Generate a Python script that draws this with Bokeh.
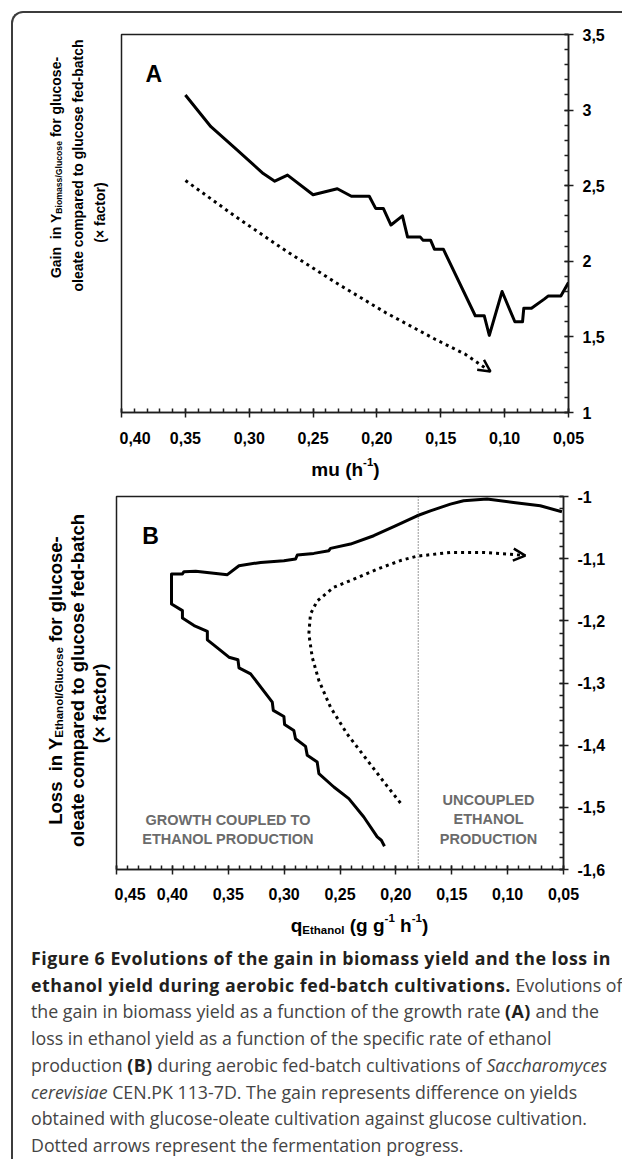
import math
import subprocess
import numpy as np
from bokeh.plotting import figure
from bokeh.models import (Range1d, FixedTicker, CustomJSTickFormatter, Label, Arrow,
                          OpenHead, Span, Div)
from bokeh.layouts import column, row
from bokeh.embed import file_html
from bokeh.resources import INLINE

# ---------------- data ----------------
# Panel A: gain in biomass yield vs growth rate mu (h-1)
mu_a = [0.350, 0.330, 0.310, 0.289, 0.280, 0.270, 0.250, 0.231, 0.220, 0.206, 0.201,
        0.195, 0.189, 0.180, 0.176, 0.166, 0.164, 0.158, 0.155, 0.148, 0.123, 0.116,
        0.112, 0.102, 0.092, 0.086, 0.085, 0.079, 0.069, 0.066, 0.056, 0.050]
gain_a = [3.10, 2.89, 2.74, 2.58, 2.53, 2.57, 2.44, 2.48, 2.43, 2.43, 2.35,
          2.35, 2.24, 2.30, 2.16, 2.16, 2.14, 2.14, 2.08, 2.08, 1.64, 1.64,
          1.51, 1.80, 1.60, 1.60, 1.69, 1.69, 1.75, 1.77, 1.77, 1.86]
# dotted "fermentation progress" arrow, panel A
arrow_a_mu = [0.3499, 0.3107, 0.2716, 0.2324, 0.1933, 0.1541, 0.1306, 0.1111]
arrow_a_gain = [2.534, 2.296, 2.071, 1.860, 1.661, 1.483, 1.384, 1.271]

# Panel B: loss in ethanol yield vs q_Ethanol (g g-1 h-1)
q_b = [0.2102, 0.2130, 0.2167, 0.2287, 0.2421, 0.2555, 0.2689, 0.2704, 0.2793, 0.2808,
       0.2898, 0.2913, 0.2996, 0.3002, 0.3097, 0.3106, 0.3300, 0.3404, 0.3413, 0.3494,
       0.3597, 0.3687, 0.3687, 0.3806, 0.3910, 0.3910, 0.4008, 0.4008,
       0.3910, 0.3896, 0.3791, 0.3508, 0.3404, 0.3210, 0.3002, 0.2898, 0.2882, 0.2734,
       0.2600, 0.2585, 0.2406, 0.2198, 0.2004, 0.1810, 0.1691, 0.1512, 0.1394, 0.1184,
       0.0947, 0.0708, 0.0514]
loss_b = [-1.5625, -1.5530, -1.5476, -1.5155, -1.4860, -1.4673, -1.4458, -1.4272, -1.4164, -1.4020,
          -1.3896, -1.3763, -1.3666, -1.3538, -1.3441, -1.3308, -1.2852, -1.2756, -1.2627, -1.2585,
          -1.2435, -1.2306, -1.2168, -1.2076, -1.1953, -1.1836, -1.1728, -1.1246,
          -1.1246, -1.1209, -1.1204, -1.1257, -1.1113, -1.1060, -1.1033, -1.1006, -1.0941, -1.0915,
          -1.0872, -1.0835, -1.0765, -1.0631, -1.0471, -1.0310, -1.0230, -1.0122, -1.0069, -1.0042,
          -1.0096, -1.0149, -1.0246]
# dotted "fermentation progress" arrow, panel B
arrow_b_q = [0.1959, 0.2108, 0.2257, 0.2436, 0.2585, 0.2689, 0.2748, 0.2779, 0.2764, 0.2704,
             0.2555, 0.2377, 0.2167, 0.1959, 0.1810, 0.1512, 0.1215, 0.0976, 0.0842]
arrow_b_loss = [-1.493, -1.459, -1.424, -1.382, -1.339, -1.296, -1.259, -1.221, -1.189, -1.168,
                -1.146, -1.133, -1.117, -1.103, -1.096, -1.090, -1.090, -1.093, -1.095]
q_threshold = 0.18

# ticks
a_x_ticks = [0.40, 0.35, 0.30, 0.25, 0.20, 0.15, 0.10, 0.05]
a_y_ticks = [1.0, 1.5, 2.0, 2.5, 3.0, 3.5]
b_x_ticks = [0.45, 0.40, 0.35, 0.30, 0.25, 0.20, 0.15, 0.10, 0.05]
b_y_ticks = [-1.6, -1.5, -1.4, -1.3, -1.2, -1.1, -1.0]

FONT = "Liberation Sans"
AX = "#1e1e1e"
TICK_SIZE = "16px"

# ---------------- fonts / text measuring (for sub/superscripts) ----------------
def _run(cmd):
    try:
        return subprocess.run(cmd, capture_output=True, text=True, timeout=10).stdout
    except Exception:
        return ""

_narrow = "Liberation Sans Narrow" in _run(["fc-list", ":", "family"])
TITLE_FONT = "Liberation Sans Narrow" if _narrow else FONT

_fonts = {}
def text_w(s, size, font=FONT):
    if not s:
        return 0.0
    try:
        from PIL import ImageFont
        if font not in _fonts:
            path = _run(["fc-match", "-f", "%{file}", font + ":bold"]).strip()
            _fonts[font] = ImageFont.truetype(path, 100)
        return _fonts[font].getlength(s) * size / 100.0
    except Exception:
        return 0.6 * size * len(s)


def rich(p, org, pieces, cx, cy, vertical=False, color="black", font=FONT):
    """pieces: (text, size, baseline shift); cx, cy in page px; org = canvas origin on page"""
    cx, cy = cx - org[0], cy - org[1]
    widths = [text_w(t, s, font) for t, s, _ in pieces]
    pos = -sum(widths) / 2.0
    for (t, s, shift), w in zip(pieces, widths):
        body = t.lstrip(" ")
        off = text_w(t[:len(t) - len(body)], s, font)
        if vertical:
            x, y, ang = cx + shift, cy - (pos + off), math.pi / 2
        else:
            x, y, ang = cx + pos + off, cy + shift, 0.0
        p.add_layout(Label(x=x, y=y, x_units="canvas", y_units="canvas", text=body, angle=ang,
                           text_align="left", text_baseline="alphabetic", text_font=font,
                           text_font_style="bold", text_font_size=f"{s:.2f}px", text_color=color))
        pos += w


def plain(p, org, text, x, y, size, color="black", align="left", baseline="alphabetic"):
    p.add_layout(Label(x=x - org[0], y=y - org[1], x_units="canvas", y_units="canvas", text=text,
                       text_align=align, text_baseline=baseline, text_font=FONT,
                       text_font_style="bold", text_font_size=f"{size}px", text_color=color))


fmt2 = CustomJSTickFormatter(code="return tick.toFixed(2).replace('.', ',');")
fmtg = CustomJSTickFormatter(code="var v = Math.round(tick*10)/10; return String(v).replace('.', ',');")


def make_fig(width, height, left, right, top, bottom, xr, yr, xt, yt, x_minor, y_minor, xstand, ystand):
    p = figure(width=width, height=height, x_range=Range1d(*xr), y_range=Range1d(*yr),
               y_axis_location="right", toolbar_location=None, output_backend="svg",
               min_border_left=left, min_border_right=right, min_border_top=top,
               min_border_bottom=bottom)
    p.grid.visible = False
    p.outline_line_color = AX
    p.outline_line_width = 1.5
    p.border_fill_color = None
    p.background_fill_color = "white"
    p.xaxis[0].ticker = FixedTicker(ticks=xt, minor_ticks=x_minor)
    p.yaxis[0].ticker = FixedTicker(ticks=yt, minor_ticks=y_minor)
    p.xaxis[0].major_label_standoff = xstand
    p.yaxis[0].major_label_standoff = ystand
    for ax in (p.xaxis[0], p.yaxis[0]):
        ax.axis_line_color = AX
        ax.axis_line_width = 1.5
        ax.major_tick_in = 4
        ax.major_tick_out = 5
        ax.minor_tick_in = 4
        ax.minor_tick_out = 0
        ax.major_tick_line_color = AX
        ax.minor_tick_line_color = AX
        ax.major_tick_line_width = 1.5
        ax.minor_tick_line_width = 1.5
        ax.major_label_text_font = FONT
        ax.major_label_text_font_style = "bold"
        ax.major_label_text_font_size = TICK_SIZE
        ax.major_label_text_color = "black"
    return p


def text_fig(w, h):
    t = figure(width=w, height=h, x_range=Range1d(0, w), y_range=Range1d(0, h),
               toolbar_location=None, output_backend="svg", x_axis_location=None,
               y_axis_location=None, min_border=0)
    t.outline_line_color = None
    t.grid.visible = False
    t.border_fill_color = None
    t.background_fill_color = None
    return t

# page positions of each canvas (content origin at 13,13)
O_YTA, O_PA, O_XTA = (13, 13), (119, 13), (13, 453)
O_YTB, O_PB, O_XTB = (13, 480), (114, 480), (13, 911)

LINE2 = "oleate compared to glucose fed-batch"
# y-title sizes: narrow face fitted to the measured line length, else a compromise size
SA = 230.0 / text_w(LINE2, 1.0, TITLE_FONT) if _narrow else 14.0
SB = 315.0 / text_w(LINE2, 1.0, TITLE_FONT) if _narrow else 18.5

# ---------------- panel A ----------------
pa = make_fig(494, 440, 2, 45, 21, 41, (0.40, 0.05), (1.0, 3.5),
              a_x_ticks, a_y_ticks,
              [round(v, 2) for v in np.arange(0.05, 0.401, 0.01)],
              [round(v, 1) for v in np.arange(1.0, 3.51, 0.1)], 14, 9)
pa.xaxis[0].formatter = fmt2
pa.yaxis[0].formatter = fmtg
pa.line(mu_a, gain_a, line_color="black", line_width=3, line_join="round")
pa.line(arrow_a_mu, arrow_a_gain, line_color="black", line_width=3, line_dash="3 4")
pa.add_layout(Arrow(end=OpenHead(size=12, line_width=2.5, line_color="black"),
                    x_start=arrow_a_mu[-2], y_start=arrow_a_gain[-2],
                    x_end=arrow_a_mu[-1], y_end=arrow_a_gain[-1], line_alpha=0))
plain(pa, O_PA, "A", 145, 73.3, 23)

yta = text_fig(106, 440)
rich(yta, O_YTA, [("Gain", SA, 0), ("  in Y", SA, 0), ("Biomass/Glucose", SA * 0.62, 0.22 * SA),
                  (" for glucose-", SA, 0)], 50 + 0.36 * SA, 167, vertical=True, font=TITLE_FONT)
rich(yta, O_YTA, [(LINE2, SA, 0)], 72 + 0.36 * SA, 165, vertical=True, font=TITLE_FONT)
rich(yta, O_YTA, [("(\u00d7 factor)", SA, 0)], 94 + 0.36 * SA, 212, vertical=True, font=TITLE_FONT)

xta = text_fig(600, 27)
rich(xta, O_XTA, [("mu (h", 19, 0), ("-1", 11.5, -7.5), (")", 19, 0)], 345, 469)

# ---------------- panel B ----------------
pb = make_fig(499, 431, 2, 50, 16, 42, (0.45, 0.05), (-1.6, -1.0),
              b_x_ticks, b_y_ticks,
              [round(v, 2) for v in np.arange(0.05, 0.451, 0.01)],
              [round(v, 2) for v in np.arange(-1.6, -0.999, 0.02)], 13, 9)
pb.xaxis[0].formatter = fmt2
pb.yaxis[0].formatter = fmtg
pb.add_layout(Span(location=q_threshold, dimension="height", line_color="#333333",
                   line_width=1, line_dash="1 2"))
pb.line(q_b, loss_b, line_color="black", line_width=3, line_join="round")
pb.line(arrow_b_q, arrow_b_loss, line_color="black", line_width=3, line_dash="3 4")
pb.add_layout(Arrow(end=OpenHead(size=12, line_width=2.5, line_color="black"),
                    x_start=arrow_b_q[-2], y_start=arrow_b_loss[-2],
                    x_end=arrow_b_q[-1], y_end=arrow_b_loss[-1], line_alpha=0))
plain(pb, O_PB, "B", 141.7, 535, 23)
GRAY = "#6b6b6b"
plain(pb, O_PB, "GROWTH COUPLED TO", 227.5, 819, 14.5, GRAY, "center", "middle")
plain(pb, O_PB, "ETHANOL PRODUCTION", 227.5, 838, 14.5, GRAY, "center", "middle")
plain(pb, O_PB, "UNCOUPLED", 488, 799, 14.5, GRAY, "center", "middle")
plain(pb, O_PB, "ETHANOL", 488, 818, 14.5, GRAY, "center", "middle")
plain(pb, O_PB, "PRODUCTION", 488, 838, 14.5, GRAY, "center", "middle")

ytb = text_fig(101, 431)
rich(ytb, O_YTB, [("Loss", SB, 0), ("  in Y", SB, 0), ("Ethanol/Glucose", SB * 0.62, 0.22 * SB),
                  (" for glucose-", SB, 0)], 48 + 0.36 * SB, 680, vertical=True, font=TITLE_FONT)
rich(ytb, O_YTB, [(LINE2, SB, 0)], 70 + 0.36 * SB, 680, vertical=True, font=TITLE_FONT)
rich(ytb, O_YTB, [("(\u00d7 factor)", SB, 0)], 92 + 0.36 * SB, 703, vertical=True, font=TITLE_FONT)

xtb = text_fig(600, 29)
rich(xtb, O_XTB, [("q", 19, 0), ("Ethanol", 11.5, 4), (" (g g", 19, 0), ("-1", 11.5, -7.5),
                  (" h", 19, 0), ("-1", 11.5, -7.5), (")", 19, 0)], 359, 925)

# ---------------- caption ----------------
B = "<b style='font-weight:700;color:#231f20;letter-spacing:0.5px'>"
cap_html = (
    "<div style=\"font-family:'Open Sans',sans-serif;font-size:17.8px;line-height:26.7px;"
    "color:#444444;white-space:nowrap;padding:0 0 0 13px;\">"
    + B + "Figure 6 Evolutions of the gain in biomass yield and the loss in</b><br>"
    + B + "ethanol yield during aerobic fed-batch cultivations.</b> Evolutions of<br>"
    "the gain in biomass yield as a function of the growth rate " + B + "(A)</b> and the<br>"
    "loss in ethanol yield as a function of the specific rate of ethanol<br>"
    "production " + B + "(B)</b> during aerobic fed-batch cultivations of <i>Saccharomyces</i><br>"
    "<i>cerevisiae</i> CEN.PK 113-7D. The gain represents difference on yields<br>"
    "obtained with glucose-oleate cultivation against glucose cultivation.<br>"
    "Dotted arrows represent the fermentation progress."
    "</div>")
cap = Div(text=cap_html, width=600, height=209)

layout = column(row(yta, pa), xta, row(ytb, pb), xtb, cap,
                styles={"border-left": "2px solid #3c3c3c",
                        "border-top": "2px solid #3c3c3c",
                        "border-top-left-radius": "12px",
                        "margin-left": "11px", "margin-top": "11px"})

open("out.html", "w").write(file_html(layout, INLINE))
